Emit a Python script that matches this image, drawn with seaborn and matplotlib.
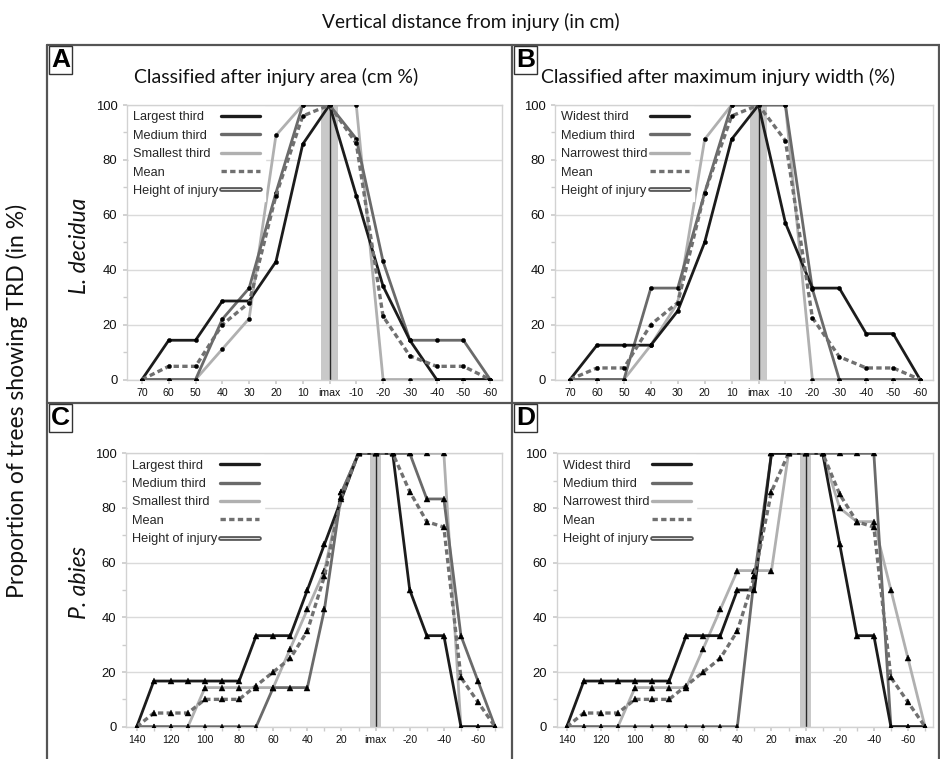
import numpy as np
import pandas as pd
import matplotlib
matplotlib.use("Agg")
import matplotlib.pyplot as plt
import seaborn as sns
from matplotlib.lines import Line2D

# ---------------- data ----------------
cats_top = ['70', '60', '50', '40', '30', '20', '10', 'imax',
            '-10', '-20', '-30', '-40', '-50', '-60']
cats_bot = ['140', '130', '120', '110', '100', '90', '80', '70', '60', '50',
            '40', '30', '20', '10', 'imax', '-10', '-20', '-30', '-40',
            '-50', '-60', '-70']

A_largest = [0, 14.3, 14.3, 28.6, 28.6, 42.9, 85.7, 100, 67, 34, 14.3, 0, 0, 0]
A_medium = [0, 0, 0, 22, 33.3, 68, 100, 100, 87.7, 43, 14.3, 14.3, 14.3, 0]
A_smallest = [0, 0, 0, 11.1, 22.2, 88.9, 100, 100, 100, 0, 0, 0, 0, 0]
A_mean = [0, 4.8, 4.8, 20, 28, 67, 96, 100, 86, 23, 8.6, 4.8, 4.8, 0]

B_widest = [0, 12.5, 12.5, 12.5, 25, 50, 87.5, 100, 57, 33.3, 33.3, 16.7, 16.7, 0]
B_medium = [0, 0, 0, 33.3, 33.3, 68, 100, 100, 100, 33, 0, 0, 0, 0]
B_narrowest = [0, 0, 0, 12.5, 28, 87.5, 100, 100, 100, 0, 0, 0, 0, 0]
B_mean = [0, 4.2, 4.2, 20, 28, 68, 96, 100, 87, 22.5, 8.3, 4.2, 4.2, 0]

C_largest = [0, 16.7, 16.7, 16.7, 16.7, 16.7, 16.7, 33.3, 33.3, 33.3, 50, 66.7,
             83.3, 100, 100, 100, 50, 33.3, 33.3, 0, 0, 0]
C_medium = [0, 0, 0, 0, 0, 0, 0, 0, 14.3, 14.3, 14.3, 42.9, 85.7, 100, 100,
            100, 100, 83.3, 83.3, 33.3, 16.7, 0]
C_smallest = [0, 0, 0, 0, 14.3, 14.3, 14.3, 14.3, 14.3, 28.6, 42.9, 57.1, 85.7,
              100, 100, 100, 100, 100, 100, 0, 0, 0]
C_mean = [0, 5, 5, 5, 10, 10, 10, 15, 20, 25, 35, 55, 84, 100, 100, 100, 86,
          75, 73, 18, 9, 0]

D_widest = [0, 16.7, 16.7, 16.7, 16.7, 16.7, 16.7, 33.3, 33.3, 33.3, 50, 50,
            100, 100, 100, 100, 66.7, 33.3, 33.3, 0, 0, 0]
D_medium = [0, 0, 0, 0, 0, 0, 0, 0, 0, 0, 0, 55, 100, 100, 100, 100, 100, 100,
            100, 0, 0, 0]
D_narrowest = [0, 0, 0, 0, 14.3, 14.3, 14.3, 14.3, 28.6, 42.9, 57.1, 57.1, 57.1,
               100, 100, 100, 80, 75, 75, 50, 25, 0]
D_mean = [0, 5, 5, 5, 10, 10, 10, 15, 20, 25, 35, 55, 86, 100, 100, 100, 85,
          75, 73, 18, 9, 0]

labels_area = ['Largest third', 'Medium third', 'Smallest third', 'Mean',
               'Height of injury']
labels_width = ['Widest third', 'Medium third', 'Narrowest third', 'Mean',
                'Height of injury']

# ---------------- style ----------------
sns.set_theme(style="white")
plt.rcParams['font.family'] = ['Liberation Sans', 'DejaVu Sans']
TITLE_FONT = ['Lato', 'DejaVu Sans']

C_DARK = '#1c1c1c'
C_MED = '#6a6a6a'
C_LIGHT = '#b0b0b0'
C_MEAN = '#707070'
GRID = '#dadada'

W, H = 940, 759
fig = plt.figure(figsize=(W / 100, H / 100), dpi=100)


def fx(px):
    return px / W


def fy(py):
    return 1 - py / H


def panel(rect, cats, series, labels, marker, msize, xlim, every):
    left, top, right, bottom = rect
    ax = fig.add_axes([fx(left), fy(bottom), fx(right - left), (bottom - top) / H])
    pos = np.arange(len(cats))
    imax = cats.index('imax')
    ax.axvspan(imax - 0.3, imax + 0.3, color='#c9c9c9', lw=0, zorder=1)
    ax.axvline(imax, color='#2a2a2a', lw=1.0, zorder=2)
    df = pd.DataFrame({'pos': pos, 'a': series[0], 'b': series[1],
                       'c': series[2], 'm': series[3]})
    styles = [('c', C_LIGHT, '-', 2.0), ('b', C_MED, '-', 2.0),
              ('a', C_DARK, '-', 2.0), ('m', C_MEAN, (0, (1.6, 1.0)), 2.4)]
    for col, colr, ls, lw in styles:
        sns.lineplot(data=df, x='pos', y=col, ax=ax, color=colr, lw=lw,
                     linestyle=ls, marker=marker, markersize=msize,
                     markerfacecolor='black', markeredgecolor='black',
                     markeredgewidth=0.3, legend=False, zorder=3)
    ax.set_xlim(*xlim)
    ax.set_ylim(0, 100)
    ax.set_yticks([0, 20, 40, 60, 80, 100])
    ax.set_yticks([10, 30, 50, 70, 90], minor=True)
    ax.set_xticks(pos[::every])
    ax.set_xticklabels(cats[::every])
    if every > 1:
        ax.set_xticks(pos, minor=True)
    ax.set_xlabel('')
    ax.set_ylabel('')
    ax.grid(axis='y', color=GRID, lw=1.0)
    ax.set_axisbelow(True)
    for s in ax.spines.values():
        s.set_color('#d2d2d2')
        s.set_linewidth(1.0)
    ax.tick_params(axis='y', which='both', left=True, length=3, color='#cccccc',
                   labelsize=9.4, pad=4, labelcolor='#111111')
    ax.tick_params(axis='x', which='both', bottom=True, length=3, color='#cccccc',
                   labelsize=7.6, pad=3, labelcolor='#111111')
    # legend
    handles = [Line2D([], [], color=C_DARK, lw=2.4),
               Line2D([], [], color=C_MED, lw=2.4),
               Line2D([], [], color=C_LIGHT, lw=2.4),
               Line2D([], [], color=C_MEAN, lw=2.4, linestyle=(0, (1.6, 1.0))),
               (Line2D([], [], color='#555555', lw=3.4),
                Line2D([], [], color='#dddddd', lw=0.8))]
    leg = ax.legend(handles, labels, loc='upper left', bbox_to_anchor=(0, 1),
                    borderaxespad=0.15, borderpad=0.35, markerfirst=False,
                    frameon=True, fancybox=False, framealpha=1,
                    edgecolor='white', facecolor='white', fontsize=9.2,
                    handlelength=3.1, handletextpad=0.15, labelspacing=0.5)
    leg.set_zorder(5)
    return ax, leg


legs = []
axA, l = panel((127, 105, 502, 379.5), cats_top,
               [A_largest, A_medium, A_smallest, A_mean], labels_area,
               'o', 3.0, (-0.56, 13.44), 1)
legs.append(l)
axB, l = panel((555, 105, 932.7, 379.5), cats_top,
               [B_widest, B_medium, B_narrowest, B_mean], labels_width,
               'o', 3.0, (-0.56, 13.47), 1)
legs.append(l)
axC, l = panel((126, 453.3, 501.7, 726.7), cats_bot,
               [C_largest, C_medium, C_smallest, C_mean], labels_area,
               '^', 4.2, (-0.63, 21.39), 2)
legs.append(l)
axD, l = panel((556.7, 453.3, 932.7, 726.7), cats_bot,
               [D_widest, D_medium, D_narrowest, D_mean], labels_width,
               '^', 4.2, (-0.59, 21.45), 2)
legs.append(l)

# left-align legend texts while keeping handles in one column
renderer = fig.canvas.get_renderer()
for leg in legs:
    texts = leg.get_texts()
    widths = [t.get_window_extent(renderer).width for t in texts]
    mw = max(widths)
    col = leg._legend_handle_box.get_children()[0]
    for row, w in zip(col.get_children(), widths):
        row.sep = row.sep + (mw - w) * 72.0 / fig.dpi

# ---------------- figure text & frame ----------------
fig.text(fx(471), fy(22), 'Vertical distance from injury (in cm)',
         ha='center', va='center', fontsize=13.8, family=TITLE_FONT,
         color='#111111')
fig.text(fx(276), fy(77), 'Classified after injury area (cm %)',
         ha='center', va='center', fontsize=14.0, family=TITLE_FONT,
         color='#111111')
fig.text(fx(718), fy(77), 'Classified after maximum injury width (%)',
         ha='center', va='center', fontsize=14.0, family=TITLE_FONT,
         color='#111111')
fig.text(fx(17), fy(401), 'Proportion of trees showing TRD (in %)',
         ha='center', va='center', rotation=90, fontsize=16.5,
         family=TITLE_FONT, color='#111111')
fig.text(fx(79), fy(246), 'L. decidua', ha='center', va='center', rotation=90,
         fontsize=16.5, style='italic', family=TITLE_FONT, color='#111111')
fig.text(fx(79), fy(583), 'P. abies', ha='center', va='center', rotation=90,
         fontsize=16.5, style='italic', family=TITLE_FONT, color='#111111')

frame_kw = dict(color='#555555', lw=1.6, transform=fig.transFigure)
fig.add_artist(Line2D([fx(47), fx(940)], [fy(45), fy(45)], **frame_kw))
fig.add_artist(Line2D([fx(47), fx(940)], [fy(403), fy(403)], **frame_kw))
fig.add_artist(Line2D([fx(47), fx(47)], [fy(45), fy(759)], **frame_kw))
fig.add_artist(Line2D([fx(512), fx(512)], [fy(45), fy(759)], **frame_kw))
fig.add_artist(Line2D([fx(939), fx(939)], [fy(45), fy(759)], **frame_kw))

for letter, (px, py) in zip('ABCD', [(51, 48), (516, 48), (51, 406), (516, 406)]):
    fig.text(fx(px), fy(py), letter, ha='left', va='top', fontsize=19,
             fontweight='bold', color='black',
             bbox=dict(boxstyle='square,pad=0.08', fc='white', ec='#333333',
                       lw=1.0))

fig.savefig('out.png', dpi=100)
